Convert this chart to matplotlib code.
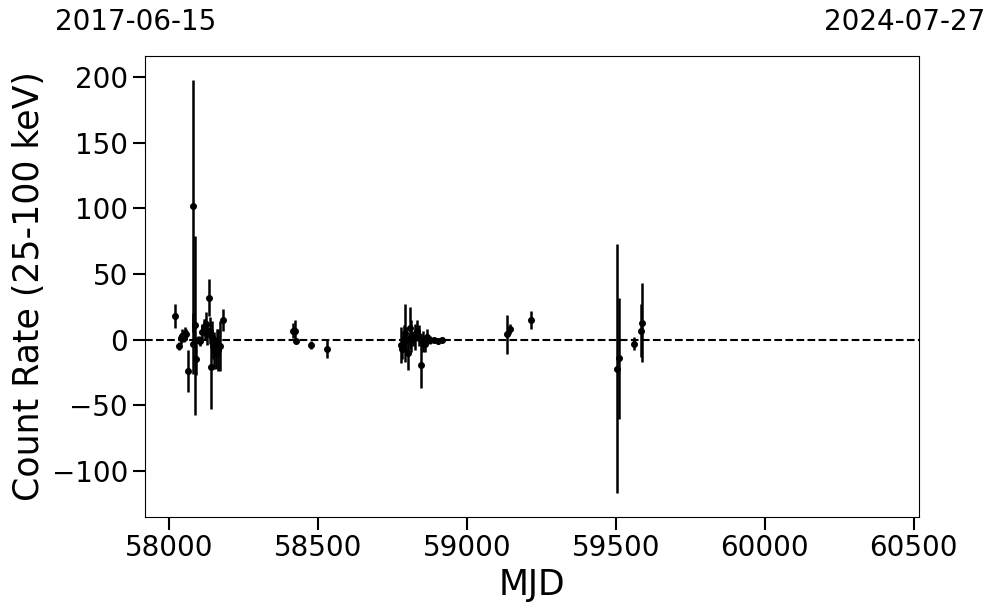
import numpy as np
import matplotlib
matplotlib.use('Agg')
import matplotlib.pyplot as plt

# MJD range shown and the matching calendar dates
mjd_min = 57919
mjd_max = 60518
date_min = '2017-06-15'
date_max = '2024-07-27'

# Light curve: MJD, count rate (25-100 keV), 1-sigma error
mjd = [58020, 58031, 58040, 58044, 58048, 58052, 58056, 58061,
       58078, 58081, 58085, 58089, 58097, 58104, 58110, 58115,
       58119, 58123, 58128, 58132, 58136, 58139, 58143, 58147,
       58151, 58155, 58160, 58165, 58170, 58179,
       58414, 58423, 58424, 58475, 58531,
       58778, 58782, 58787, 58791, 58796, 58803, 58808, 58812,
       58818, 58826, 58832, 58838, 58846, 58852, 58858, 58865,
       58876, 58888, 58901, 58915,
       59135, 59143, 59214,
       59504, 59510, 59560, 59586, 59588]
rate = [18, -5, 1, 3, 1, 5, 4, -24,
        102, -3, 11, -15, 0, -1, 6, 10,
        8, 12, 4, 32, 7, -21, 2, -5,
        -8, -10, -2, -8, -5, 15,
        7, 7, -1, -4, -7,
        -4, -7, 1, 5, 0, -10, 9, 3,
        1, 2, 7, 3, -19, -1, -3, 2,
        0, 0, -1, 0,
        4, 8, 15,
        -22, -14, -3, 7, 13]
err = [9, 3, 4, 5, 3, 5, 4, 16,
       96, 23, 68, 12, 3, 4, 6, 6,
       8, 9, 8, 14, 10, 32, 12, 10,
       14, 12, 10, 16, 19, 8,
       6, 8, 2, 3, 7,
       14, 8, 10, 22, 10, 13, 16, 12,
       6, 10, 8, 8, 18, 8, 6, 6,
       3, 2, 2, 2,
       15, 4, 7,
       95, 46, 5, 20, 30]

fig = plt.figure(figsize=(9.97, 6.13), dpi=100)
ax = fig.add_axes([0.1457, 0.1566, 0.776, 0.752])

ax.errorbar(mjd, rate, yerr=err, fmt='o', color='black', ms=4,
            elinewidth=1.8, capsize=0)
ax.axhline(0, color='black', ls='--', lw=1.5)

ax.set_xlim(mjd_min, mjd_max)
ax.set_ylim(-135, 216)
ax.set_xticks([58000, 58500, 59000, 59500, 60000, 60500])
ax.set_yticks([-100, -50, 0, 50, 100, 150, 200])
ax.tick_params(labelsize=20, length=9, width=1.5)

ax.set_xlabel('MJD', fontsize=25)
ax.set_ylabel('Count Rate (25-100 keV)', fontsize=25)

# calendar dates of the axis ends
ax.text(-0.012, 1.074, date_min, fontsize=20, ha='center', va='center',
        transform=ax.transAxes)
ax.text(0.981, 1.074, date_max, fontsize=20, ha='center', va='center',
        transform=ax.transAxes)

fig.savefig('out.png', dpi=100)
